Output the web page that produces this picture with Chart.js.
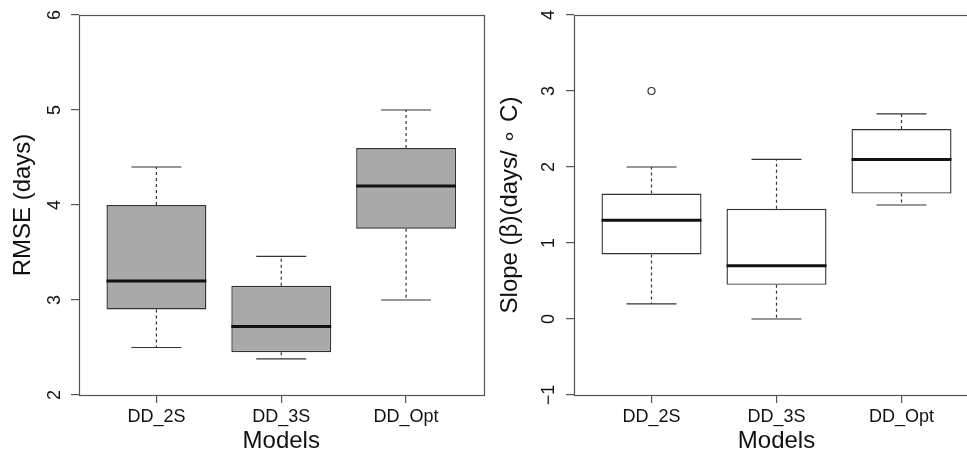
<!DOCTYPE html>
<html><head><meta charset="utf-8">
<script src="https://cdn.jsdelivr.net/npm/chart.js@4.4.1/dist/chart.umd.min.js"></script>
<style>
html,body{margin:0;padding:0;background:#fff;overflow:hidden;width:967px;height:455px;}
#wrap{position:relative;width:967px;height:455px;overflow:hidden;background:#fff;}
canvas{position:absolute;top:0;}
#c1{left:0;} #c2{left:487px;}
</style></head><body><div id="wrap">
<canvas id="c1" width="490" height="455"></canvas>
<canvas id="c2" width="500" height="455"></canvas></div>
<script>
// ---- data ----
const categories = ['DD_2S', 'DD_3S', 'DD_Opt'];

const rmseLow    = [2.50, 2.38, 3.00];
const rmseQ1     = [2.90, 2.45, 3.75];
const rmseMedian = [3.20, 2.72, 4.20];
const rmseQ3     = [4.00, 3.15, 4.60];
const rmseHigh   = [4.40, 3.46, 5.00];
const rmseOutliers = [[], [], []];
const rmseTicks  = [2, 3, 4, 5, 6];

const slopeLow    = [0.20, 0.00, 1.50];
const slopeQ1     = [0.85, 0.45, 1.65];
const slopeMedian = [1.30, 0.70, 2.10];
const slopeQ3     = [1.65, 1.45, 2.50];
const slopeHigh   = [2.00, 2.10, 2.70];
const slopeOutliers = [[3.0], [], []];
const slopeTicks  = [-1, 0, 1, 2, 3, 4];

const FONT = "'Liberation Sans', Arial, Helvetica, sans-serif";

const boxPlugin = {
  id: 'boxExtras',
  afterDatasetsDraw(chart) {
    const ctx = chart.ctx, xs = chart.scales.x, ys = chart.scales.y;
    const s = chart.data.datasets[0].stats;
    const meta = chart.getDatasetMeta(0);
    ctx.save();
    meta.data.forEach((bar, i) => {
      const cx = xs.getPixelForValue(i + 1);
      const half = bar.width / 2;
      const yLow = ys.getPixelForValue(s.low[i]);
      const yHigh = ys.getPixelForValue(s.high[i]);
      const yQ1 = ys.getPixelForValue(s.q1[i]);
      const yQ3 = ys.getPixelForValue(s.q3[i]);
      const yMed = ys.getPixelForValue(s.median[i]);
      ctx.lineWidth = 1.2; ctx.strokeStyle = '#333';
      ctx.setLineDash([3, 3]);
      ctx.beginPath();
      ctx.moveTo(cx, yQ3); ctx.lineTo(cx, yHigh);
      ctx.moveTo(cx, yQ1); ctx.lineTo(cx, yLow);
      ctx.stroke();
      ctx.setLineDash([]);
      ctx.beginPath();
      ctx.moveTo(cx - half / 2, yHigh); ctx.lineTo(cx + half / 2, yHigh);
      ctx.moveTo(cx - half / 2, yLow); ctx.lineTo(cx + half / 2, yLow);
      ctx.stroke();
      ctx.lineWidth = 3; ctx.strokeStyle = '#111';
      ctx.beginPath();
      ctx.moveTo(cx - half, yMed); ctx.lineTo(cx + half, yMed);
      ctx.stroke();
    });
    const a = chart.chartArea;
    ctx.lineWidth = 1.2; ctx.strokeStyle = '#555';
    ctx.strokeRect(Math.round(a.left) + 0.5, Math.round(a.top) + 0.5,
                   Math.round(a.right - a.left), Math.round(a.bottom - a.top));
    ctx.restore();
  }
};

function makeBoxChart(id, s, cfg) {
  const boxData = categories.map((c, i) => ({x: i + 1, y: [s.q1[i], s.q3[i]]}));
  const outData = [];
  s.out.forEach((arr, i) => arr.forEach(v => outData.push({x: i + 1, y: v})));
  return new Chart(document.getElementById(id), {
    type: 'bar',
    data: {datasets: [
      {type: 'bar', data: boxData, stats: s, backgroundColor: cfg.fill, borderColor: '#333',
       borderWidth: 1.4, borderSkipped: false, barPercentage: 0.8, categoryPercentage: 1, order: 2},
      {type: 'line', data: outData, showLine: false, pointRadius: 3.5, pointHoverRadius: 3.5,
       pointBorderWidth: 1.2, pointBackgroundColor: 'rgba(0,0,0,0)', pointBorderColor: '#333', order: 1}
    ]},
    options: {
      responsive: false, animation: false, devicePixelRatio: 1,
      layout: {padding: {top: 15, right: cfg.padRight, bottom: 0, left: 0}},
      plugins: {legend: {display: false}, tooltip: {enabled: false}},
      events: [],
      scales: {
        x: {type: 'linear', min: 0.38, max: 3.62, offset: false,
          afterFit(sc) { sc.height = 60; sc.paddingLeft = 0; sc.paddingRight = 0; },
          afterBuildTicks(sc) { sc.ticks = categories.map((c, i) => ({value: i + 1})); },
          ticks: {callback: (v) => categories[v - 1] ?? '', font: {family: FONT, size: 18}, color: '#111',
                  padding: 3, maxRotation: 0, autoSkip: false},
          grid: {offset: false, drawOnChartArea: false, tickLength: 8, color: '#555', lineWidth: 1.2},
          border: {display: false},
          title: {display: true, text: 'Models', font: {family: FONT, size: 24, lineHeight: 1}, color: '#111',
                  padding: {top: 0, bottom: 1.5}}
        },
        y: {type: 'linear', min: cfg.min, max: cfg.max,
          afterFit(sc) { sc.width = cfg.yWidth; sc.paddingTop = 0; sc.paddingBottom = 0; },
          afterBuildTicks(sc) { sc.ticks = cfg.ticks.map(v => ({value: v})); },
          ticks: {callback: (v) => v < 0 ? '\u2212' + Math.abs(v) : String(v), minRotation: 90, maxRotation: 90,
                  crossAlign: 'center', padding: cfg.yPad, font: {family: FONT, size: 18}, color: '#111'},
          grid: {drawOnChartArea: false, tickLength: 8, color: '#555', lineWidth: 1.2},
          border: {display: false},
          title: {display: true, text: cfg.title, font: {family: FONT, size: 24, lineHeight: 1}, color: '#111',
                  padding: {top: 11, bottom: 0}}
        }
      }
    },
    plugins: [boxPlugin]
  });
}

makeBoxChart('c1',
  {low: rmseLow, q1: rmseQ1, median: rmseMedian, q3: rmseQ3, high: rmseHigh, out: rmseOutliers},
  {fill: '#a9a9a9', min: 2, max: 6, ticks: rmseTicks, yWidth: 79, yPad: 11, padRight: 6.5,
   title: 'RMSE (days)'});

makeBoxChart('c2',
  {low: slopeLow, q1: slopeQ1, median: slopeMedian, q3: slopeQ3, high: slopeHigh, out: slopeOutliers},
  {fill: '#ffffff', min: -1, max: 4, ticks: slopeTicks, yWidth: 87, yPad: 6.5, padRight: 8,
   title: 'Slope (\u03B2)(days/ \u2218 C)'});
</script>
</body></html>
